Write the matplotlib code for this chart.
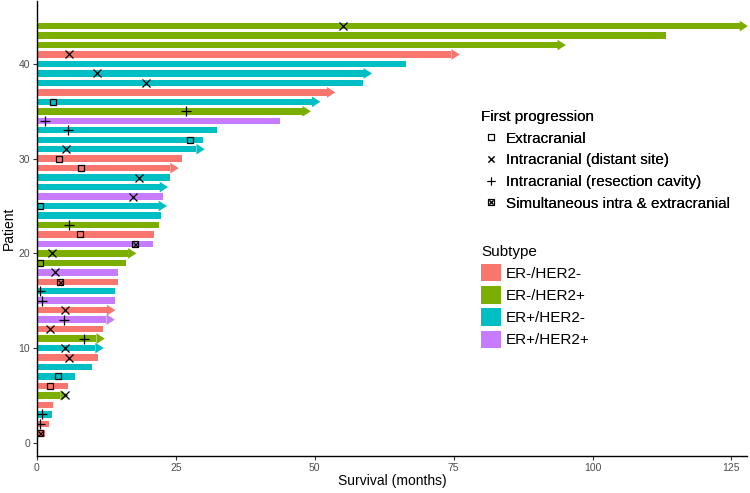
import matplotlib
matplotlib.use('Agg')
import matplotlib.pyplot as plt
from matplotlib.lines import Line2D
from matplotlib.patches import Patch
from matplotlib.legend_handler import HandlerTuple

plt.rcParams['font.family'] = ['Liberation Sans', 'DejaVu Sans']

# patients 1..44 (bottom to top)
patient = list(range(1, 45))
subtype = ['ER-/HER2-', 'ER-/HER2-', 'ER+/HER2-', 'ER-/HER2-', 'ER-/HER2+',
           'ER-/HER2-', 'ER+/HER2-', 'ER+/HER2-', 'ER-/HER2-', 'ER+/HER2-',
           'ER-/HER2+', 'ER-/HER2-', 'ER+/HER2+', 'ER-/HER2-', 'ER+/HER2+',
           'ER+/HER2-', 'ER-/HER2-', 'ER+/HER2+', 'ER-/HER2+', 'ER-/HER2+',
           'ER+/HER2+', 'ER-/HER2-', 'ER-/HER2+', 'ER+/HER2-', 'ER+/HER2-',
           'ER+/HER2+', 'ER+/HER2-', 'ER+/HER2-', 'ER-/HER2-', 'ER-/HER2-',
           'ER+/HER2-', 'ER+/HER2-', 'ER+/HER2-', 'ER+/HER2+', 'ER-/HER2+',
           'ER+/HER2-', 'ER-/HER2-', 'ER+/HER2-', 'ER+/HER2-', 'ER+/HER2-',
           'ER-/HER2-', 'ER-/HER2+', 'ER-/HER2+', 'ER-/HER2+']
survival = [1.5, 2.1, 2.7, 2.9, 4.2, 5.5, 6.8, 9.9, 11.0, 10.5,
            10.7, 11.9, 12.5, 12.6, 14.0, 14.1, 14.5, 14.6, 16.1, 16.4,
            20.8, 21.0, 21.9, 22.4, 21.9, 22.6, 22.1, 23.9, 24.0, 26.1,
            28.7, 29.9, 32.4, 43.7, 47.8, 49.5, 52.2, 58.7, 58.8, 66.5,
            74.6, 93.7, 113.2, 126.5]
# 1 = still alive / ongoing (arrow)
ongoing = [0, 0, 0, 0, 1, 0, 0, 0, 0, 1,
           1, 0, 1, 1, 0, 0, 0, 0, 0, 1,
           0, 0, 0, 0, 1, 0, 1, 0, 1, 0,
           1, 0, 0, 0, 1, 1, 1, 0, 1, 0,
           1, 1, 0, 1]
# first progression: time and type (None = no progression)
prog_time = [0.6, 0.6, 0.9, None, 5.1, 2.3, 3.7, None, 5.7, 5.1,
             8.4, 2.4, 4.8, 5.1, 0.9, 0.6, 4.2, 3.3, 0.6, 2.7,
             17.6, 7.7, 5.7, None, 0.6, 17.3, None, 18.3, 8.0, 3.9,
             5.3, 27.6, 5.6, 1.5, 26.8, 2.8, None, 19.7, 10.8, None,
             5.8, None, None, 55.0]
prog_type = ['both', 'cavity', 'cavity', None, 'distant', 'extra', 'extra', None, 'distant', 'distant',
             'cavity', 'distant', 'cavity', 'distant', 'cavity', 'cavity', 'both', 'distant', 'extra', 'distant',
             'both', 'extra', 'cavity', None, 'extra', 'distant', None, 'distant', 'extra', 'extra',
             'distant', 'extra', 'cavity', 'cavity', 'cavity', 'extra', None, 'distant', 'distant', None,
             'distant', None, None, 'distant']

subtype_names = ['ER-/HER2-', 'ER-/HER2+', 'ER+/HER2-', 'ER+/HER2+']
subtype_colors = ['#F8766D', '#7CAE00', '#00BFC4', '#C77CFF']
prog_names = ['Extracranial', 'Intracranial (distant site)',
              'Intracranial (resection cavity)', 'Simultaneous intra & extracranial']

color_of = dict(zip(subtype_names, subtype_colors))
head_len = 1.5
head_half = 0.56

fig = plt.figure(figsize=(7.5, 4.93), dpi=100)
ax = fig.add_axes([0.0493, 0.075, 0.9467, 0.923])

bar_colors = [color_of[s] for s in subtype]
ax.barh(patient, survival, height=0.68, color=bar_colors, linewidth=0)

# arrow heads for ongoing patients
for p, v, o, c in zip(patient, survival, ongoing, bar_colors):
    if o:
        ax.fill([v, v, v + head_len], [p - head_half, p + head_half, p],
                color=c, linewidth=0, clip_on=True)

# first progression markers
for p, t, k in zip(patient, prog_time, prog_type):
    if k is None:
        continue
    if k == 'extra':
        ax.plot(t, p, marker='s', ms=5, mfc='none', mec='black', mew=0.9)
    elif k == 'distant':
        ax.plot(t, p, marker='x', ms=5.5, mec='black', mew=0.9)
    elif k == 'cavity':
        ax.plot(t, p, marker='+', ms=7, mec='black', mew=0.9)
    else:
        ax.plot(t, p, marker='s', ms=5, mfc='none', mec='black', mew=0.9)
        ax.plot(t, p, marker='x', ms=3.6, mec='black', mew=0.9)

ax.set_xlim(0, 127.8)
ax.set_ylim(-1.4, 46.65)
ax.set_xticks([0, 25, 50, 75, 100, 125])
ax.set_yticks([0, 10, 20, 30, 40])
ax.spines['top'].set_visible(False)
ax.spines['right'].set_visible(False)
ax.spines['left'].set_linewidth(1.0)
ax.spines['bottom'].set_linewidth(1.0)
ax.tick_params(axis='both', labelsize=7.5, labelcolor='#4D4D4D', color='#333333',
               length=3, width=0.8, pad=2)
ax.set_xlabel('Survival (months)', fontsize=10, labelpad=1)
ax.set_ylabel('Patient', fontsize=10, labelpad=2)

# legend: first progression
h_extra = Line2D([], [], ls='none', marker='s', ms=4, mfc='none', mec='black', mew=0.8)
h_dist = Line2D([], [], ls='none', marker='x', ms=4.5, mec='black', mew=0.8)
h_cav = Line2D([], [], ls='none', marker='+', ms=6, mec='black', mew=0.8)
h_both = (Line2D([], [], ls='none', marker='s', ms=4, mfc='none', mec='black', mew=0.8),
          Line2D([], [], ls='none', marker='x', ms=2.8, mec='black', mew=0.8))
leg1 = fig.legend([h_extra, h_dist, h_cav, h_both], prog_names, title='First progression',
                  loc='upper left', bbox_to_anchor=(0.631, 0.792), frameon=False,
                  fontsize=11, title_fontsize=11, alignment='left',
                  handlelength=1.3, handletextpad=0.35, labelspacing=0.5, borderpad=0,
                  handler_map={tuple: HandlerTuple(ndivide=1, pad=0)})
fig.add_artist(leg1)

# legend: subtype
h_sub = [Patch(facecolor=c, edgecolor='none') for c in subtype_colors]
leg2 = fig.legend(h_sub, subtype_names, title='Subtype',
                  loc='upper left', bbox_to_anchor=(0.631, 0.518), frameon=False,
                  fontsize=11, title_fontsize=11, alignment='left',
                  handlelength=1.3, handleheight=1.4, handletextpad=0.35,
                  labelspacing=0.3, borderpad=0)

fig.savefig('out.png', dpi=100)
